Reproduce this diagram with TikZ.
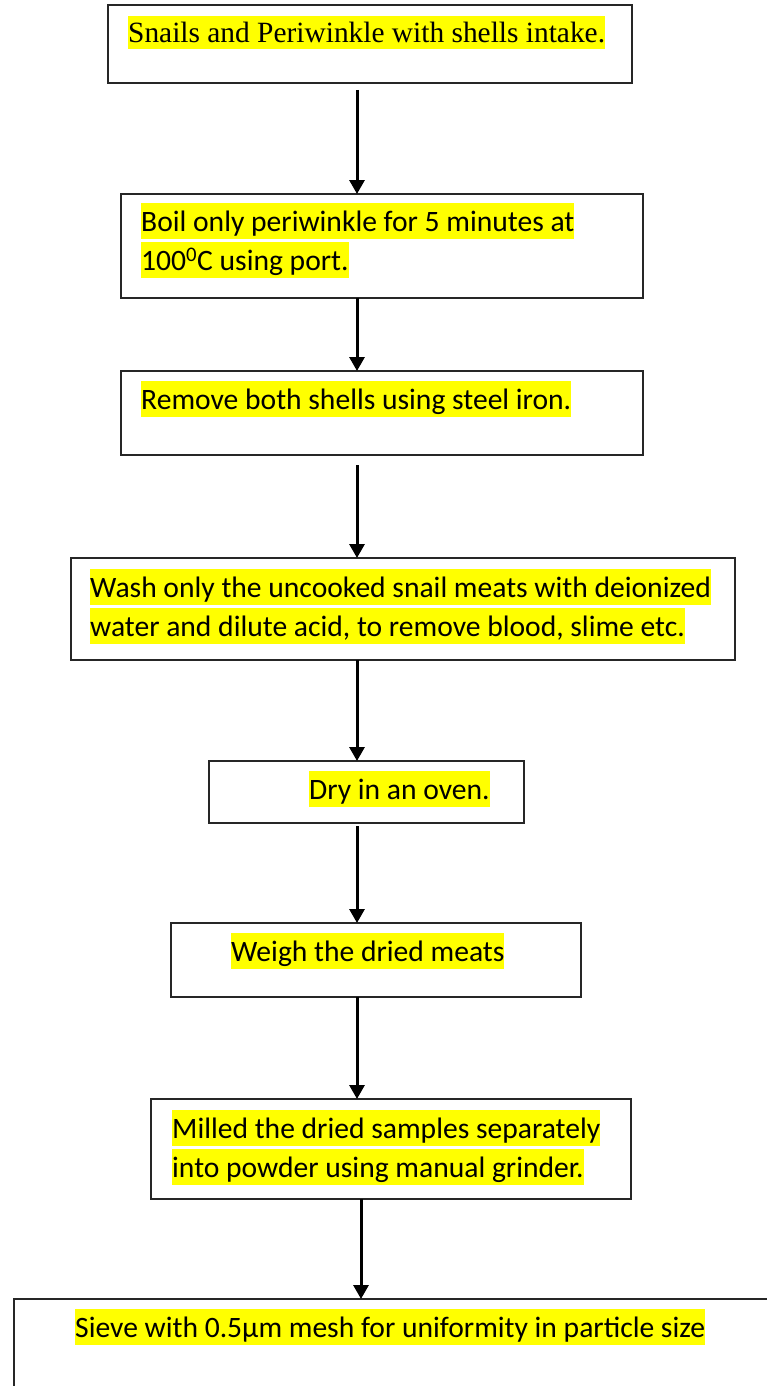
\documentclass[tikz,border=0pt]{standalone}
\usepackage{fontspec}
\setmainfont{Carlito}
\newfontfamily\timesfont{Liberation Serif}
\usetikzlibrary{arrows.meta}
\definecolor{hlyellow}{RGB}{255,255,0}
\setlength{\fboxsep}{0pt}
\newcommand{\hl}[1]{\colorbox{hlyellow}{\rule[-0.269em]{0pt}{1.221em}#1}}
\newcommand{\hlt}[1]{\colorbox{hlyellow}{\rule[-0.216em]{0pt}{1.107em}#1}}
\begin{document}
\begin{tikzpicture}[x=1pt,y=-1pt,
    stepbox/.style={draw=black!85,line width=1.3pt,fill=white,inner sep=0pt,outer sep=0pt,anchor=north west},
    steptext/.style={inner sep=0pt,anchor=north west,align=left,font=\fontsize{29.6}{39}\selectfont},
    flow/.style={line width=3pt,-{Triangle[width=15pt,length=14pt]}}]
  \useasboundingbox (0,0) rectangle (767,1386);
  \coordinate (mid) at (357,0);
  \coordinate (midb) at (361,0);
  % boxes
  \node[stepbox,minimum width=524,minimum height=78] (b1) at (108,5) {};
  \node[stepbox,minimum width=522,minimum height=104] (b2) at (121,194) {};
  \node[stepbox,minimum width=522,minimum height=84] (b3) at (121,371) {};
  \node[stepbox,minimum width=664,minimum height=102] (b4) at (71,558) {};
  \node[stepbox,minimum width=315,minimum height=62] (b5) at (209,761) {};
  \node[stepbox,minimum width=410,minimum height=74] (b6) at (171,923) {};
  \node[stepbox,minimum width=480,minimum height=100] (b7) at (151,1099) {};
  \node[stepbox,minimum width=800,minimum height=120] (b8) at (14,1299) {};
  % texts
  \node[steptext,font=\timesfont\fontsize{29.4}{36}\selectfont] (t1) at (128,16)
    {\hlt{Snails and Periwinkle with shells intake.}};
  \node[steptext] (t2) at (141,203)
    {\hl{Boil only periwinkle for 5 minutes at}\\\hl{100\textsuperscript{0}C using port.}};
  \node[steptext] (t3) at (141,381) {\hl{Remove both shells using steel iron.}};
  \node[steptext] (t4) at (90,569)
    {\hl{Wash only the uncooked snail meats with deionized}\\\hl{water and dilute acid, to remove blood, slime etc.}};
  \node[steptext] (t5) at (309,771) {\hl{Dry in an oven.}};
  \node[steptext] (t6) at (231,933) {\hl{Weigh the dried meats}};
  \node[steptext] (t7) at (172,1110)
    {\hl{Milled the dried samples separately}\\\hl{into powder using manual grinder.}};
  \node[steptext] (t8) at (75,1309) {\hl{Sieve with 0.5µm mesh for uniformity in particle size}};
  % arrows
  \draw[flow,shorten <=7pt] (b1.south -| mid) -- (b2.north -| mid);
  \draw[flow] (b2.south -| mid) -- (b3.north -| mid);
  \draw[flow,shorten <=10pt] (b3.south -| mid) -- (b4.north -| mid);
  \draw[flow] (b4.south -| mid) -- (b5.north -| mid);
  \draw[flow,shorten <=3pt] (b5.south -| mid) -- (b6.north -| mid);
  \draw[flow] (b6.south -| mid) -- (b7.north -| mid);
  \draw[flow] (b7.south -| midb) -- (b8.north -| midb);
\end{tikzpicture}
\end{document}
